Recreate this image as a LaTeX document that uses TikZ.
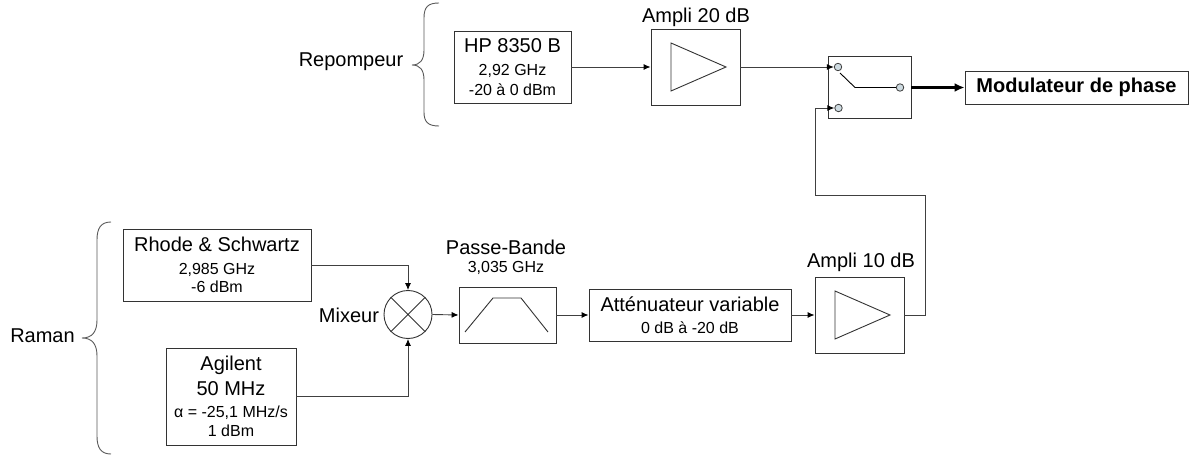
\documentclass[tikz,border=0pt]{standalone}
\usepackage{fontspec}
\setmainfont{Liberation Sans}
\newcommand{\bigtxt}{\fontsize{20}{20}\selectfont}
\newcommand{\smalltxt}{\fontsize{16}{20}\selectfont}
\tikzset{
  boxnode/.style={draw=black!80,line width=.9pt,inner sep=0pt,align=center,font=\bigtxt},
  wire/.style={draw=black!75,line width=.9pt,-{Latex[black,length=7pt,width=6pt]}},
  plainwire/.style={draw=black!75,line width=.9pt},
  sym/.style={draw=black!80,line width=.9pt},
  bracket/.style={draw=black!65,line width=.9pt},
  port/.style={circle,draw=black!75,fill=cyan!25!gray!35,line width=.8pt,minimum size=7.5pt,inner sep=0pt}
}
\usetikzlibrary{arrows.meta}
\begin{document}
\begin{tikzpicture}[x=1pt,y=-1pt]
\useasboundingbox(0,0)rectangle(1191,457);
% upper branch
\node[boxnode,minimum width=117pt,minimum height=72pt](hp)at(512.5,67){HP 8350 B\\[3pt]\smalltxt 2,92 GHz\\\smalltxt -20 à 0 dBm};
\node[boxnode,minimum width=89pt,minimum height=76pt](ampa)at(695.5,67){};
\node[font=\bigtxt,inner sep=0pt](ampalabel)at(696,17){Ampli 20 dB};
\node[boxnode,minimum width=83pt,minimum height=62pt](switch)at(869.5,87.5){};
\node[port](ina)at(838,67){};\node[port](inb)at(838.5,108){};\node[port](outp)at(900,87.5){};
\node[boxnode,font=\bigtxt\bfseries,minimum width=223pt,minimum height=33pt](modul)at(1076.5,87.5){Modulateur de phase};
\node[font=\bigtxt,inner sep=0pt](repomp)at(351,62){Repompeur};
\node[font=\bigtxt,inner sep=0pt](raman)at(42.5,336){Raman};
% lower branch
\node[boxnode,minimum width=188pt,minimum height=72pt](rhode)at(217,265){Rhode \& Schwartz\\[3pt]\smalltxt 2,985 GHz\\[-2pt]\smalltxt -6 dBm};
\node[boxnode,minimum width=130pt,minimum height=97pt](agil)at(231,396.5){Agilent\\[5pt]50 MHz\\[2pt]\smalltxt α = -25,1 MHz/s\\[-1pt]\smalltxt 1 dBm};
\node[circle,draw=black!80,line width=.9pt,minimum size=48pt,inner sep=0pt](mix)at(408,314.5){};
\node[font=\bigtxt,inner sep=0pt](mixlabel)at(349,315){Mixeur};
\node[boxnode,minimum width=97pt,minimum height=56pt](band)at(507.5,315){};
\node[font=\bigtxt,inner sep=0pt](bandlabel)at(506,247){Passe-Bande};
\node[font=\smalltxt,inner sep=0pt](bandfreq)at(506,268){3,035 GHz};
\node[boxnode,minimum width=202pt,minimum height=52pt](atten)at(690,315){Atténuateur variable\\[2pt]\smalltxt 0 dB à -20 dB};
\node[boxnode,minimum width=89pt,minimum height=76pt](ampb)at(859.5,315){};
\node[font=\bigtxt,inner sep=0pt](ampblabel)at(861,262){Ampli 10 dB};
% symbols
\draw[sym](mix.45)--(mix.225)(mix.135)--(mix.315);
\draw[sym](671,43)--(726,67)--(671,91)--cycle;
\draw[sym](835,291)--(890,315)--(835,339)--cycle;
\draw[sym](465,332)--(493,298)--(521,298)--(548,332);
\draw[sym,black](840,73)--(855,87.5)--(outp.west);
% connectors
\coordinate(upa)at(925,195);\coordinate(upb)at(815,195);
\draw[wire](hp.east)--(ampa.west);
\draw[wire](ampa.east)--(ina.west);
\draw[plainwire,-{Latex[black,length=7pt,width=6pt]}](ampb.east)-|(upa)--(upb)|-(inb.west);
\draw[wire](rhode.east)-|(mix.north);
\draw[wire](agil.east)-|(mix.south);
\draw[wire](mix.east)--(band.west);
\draw[wire](band.east)--(atten.west);
\draw[wire](atten.east)--(ampb.west);
\draw[black,line width=2.6pt,-{Latex[length=10pt,width=9pt]}](switch.east)--(modul.west);
% braces
\draw[bracket](439,3)..controls(428,3)and(424,7)..(424,18)--(424,50)..controls(424,60)and(420,65)..(412,65)..controls(420,65)and(424,70)..(424,80)--(424,112)..controls(424,122)and(428,126)..(439,126);
\draw[bracket](111,222)..controls(101,222)and(97,228)..(97,240)--(97,320)..controls(97,332)and(92,338)..(82,338)..controls(92,338)and(97,344)..(97,356)--(97,436)..controls(97,448)and(101,454)..(111,454);
\end{tikzpicture}
\end{document}
